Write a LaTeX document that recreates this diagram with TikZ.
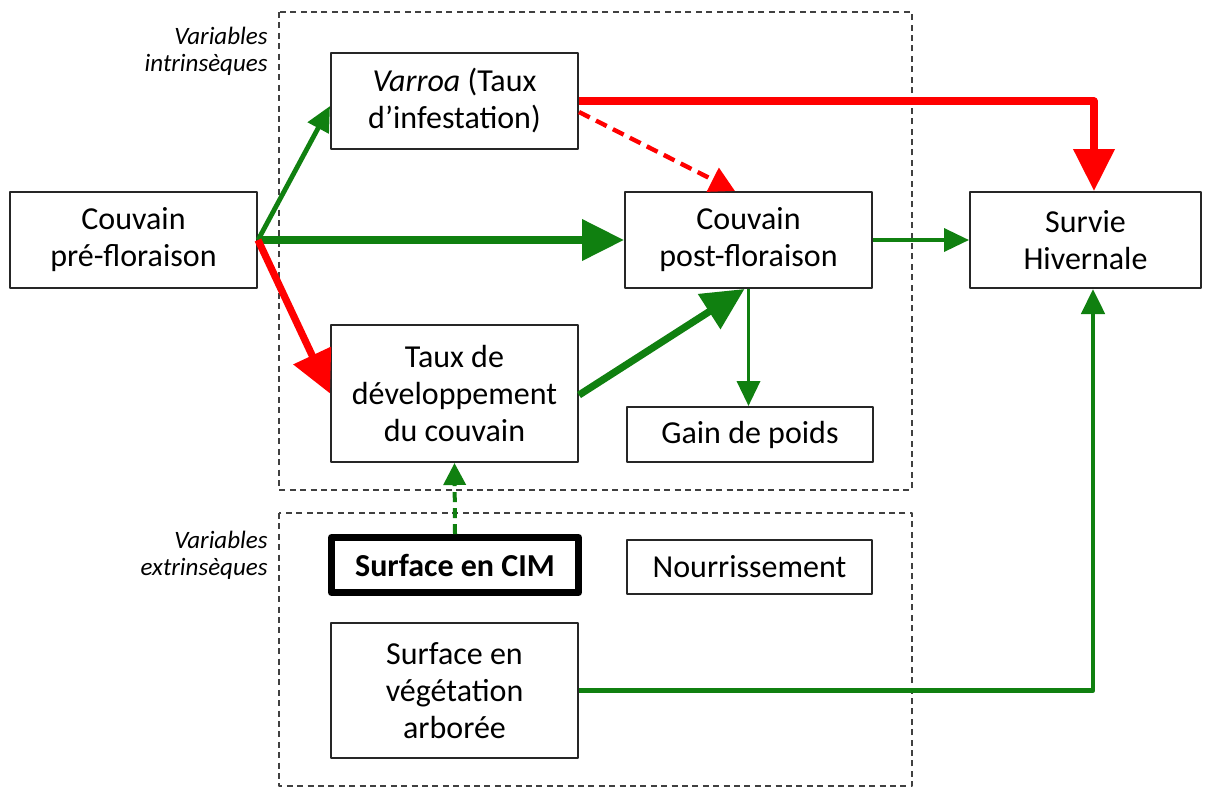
\documentclass[tikz,border=0pt]{standalone}
\usepackage{fontspec}
\setmainfont{Carlito}
\usetikzlibrary{arrows.meta}
\definecolor{gr}{RGB}{16,128,16}
\definecolor{rd}{RGB}{255,0,0}
\begin{document}
\begin{tikzpicture}[x=0.5pt,y=-0.5pt,
  box/.style={draw=black!85, line width=1pt, fill=white, inner sep=0pt, align=center,
    font=\fontsize{16}{18.5}\selectfont},
  grp/.style={draw=black!75, line width=0.8pt, dash pattern=on 3pt off 2.2pt},
  lbl/.style={align=right, anchor=east, inner sep=0pt, font=\fontsize{12.5}{13.5}\selectfont\itshape},
  thickg/.style={draw=gr, line width=3.6pt, -{Triangle[length=21pt,width=20pt]}},
  thickr/.style={draw=rd, line width=3.6pt, -{Triangle[length=21pt,width=20pt]}},
  medg/.style={draw=gr, line width=2.4pt, -{Triangle[length=12.5pt,width=11.5pt]}},
  thing/.style={draw=gr, line width=1.8pt, -{Triangle[length=12.5pt,width=11.5pt]}},
  line join=round]
\useasboundingbox (0,0) rectangle (1209,789);
\fill[white] (0,0) rectangle (1209,789);
% groups
\draw[grp] (279,12) rectangle (912,490);
\draw[grp] (279,513) rectangle (912,786);
\node[lbl] (lint) at (268,51) {Variables\\intrinsèques};
\node[lbl] (lext) at (268,555) {Variables\\extrinsèques};
% boxes
\node[box, minimum width=123.5pt, minimum height=48pt] (pre) at (133.5,240) {Couvain\\pré-floraison};
\node[box, minimum width=123.5pt, minimum height=48pt] (var) at (454.5,101) {\textit{Varroa} (Taux\\d’infestation)};
\node[box, minimum width=123.5pt, minimum height=48pt] (post) at (748.5,240) {Couvain\\post-floraison};
\node[box, minimum width=115.5pt, minimum height=48pt] (surv) at (1085.5,240) {Survie\\Hivernale};
\node[box, minimum width=123.5pt, minimum height=68.5pt] (taux) at (454.5,393.5) {Taux de\\développement\\du couvain};
\node[box, minimum width=123pt, minimum height=27.5pt] (gain) at (750,434.5) {Gain de poids};
\node[box, line width=3.5pt, draw=black, minimum width=123.5pt, minimum height=27.5pt, font=\fontsize{16}{18.5}\selectfont\bfseries] (cim) at (455,565) {Surface en CIM};
\node[box, minimum width=122.5pt, minimum height=27pt] (nour) at (749.5,567) {Nourrissement};
\node[box, minimum width=123.5pt, minimum height=67.5pt] (veg) at (454.5,690.5) {Surface en\\végétation\\arborée};
% connectors
\draw[thickr] (var.east) -| ([xshift=4.25pt]surv.north);
\draw[draw=rd, line width=2.2pt, dash pattern=on 6pt off 3.5pt, -{Triangle[length=12.5pt,width=13pt]}] ([yshift=-5.5pt]var.east) -- ([xshift=-6.75pt]post.north);
\draw[medg] (pre.east) -- ([yshift=-2.5pt]var.west);
\draw[thickg] (pre.east) -- (post.west);
\draw[thickr] (pre.east) -- (taux.west);
\draw[thickg] ([yshift=-0.75pt]taux.east) -- ([xshift=-2pt]post.south);
\draw[thing] (post.south) -- (post.south |- gain.north);
\draw[thing] (post.east) -- (surv.west);
\draw[draw=gr, line width=2pt, dash pattern=on 5pt off 3pt, -{Triangle[length=11pt,width=11pt]}] (cim.north) -- (taux.south);
\draw[medg] (veg.east) -| ([xshift=3.75pt]surv.south);
\end{tikzpicture}
\end{document}
